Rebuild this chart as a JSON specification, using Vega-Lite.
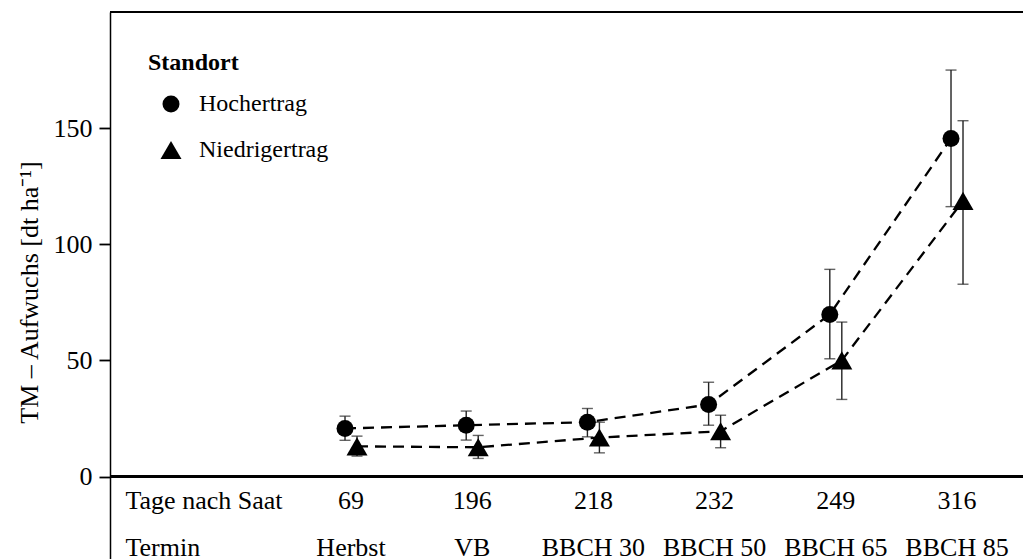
{
  "$schema": "https://vega.github.io/schema/vega-lite/v6.json",
  "width": 913,
  "height": 547,
  "autosize": {"type": "none"},
  "padding": {"left": 110, "top": 12, "right": 0, "bottom": 0},
  "background": "white",
  "config": {
    "view": {"stroke": null},
    "font": "Liberation Serif",
    "axis": {"grid": false}
  },
  "data": {
    "values": [
      {"termin": "69|Herbst", "standort": "Hochertrag", "tm": 20.7, "lo": 15.6, "hi": 26.0},
      {"termin": "196|VB", "standort": "Hochertrag", "tm": 22.1, "lo": 15.7, "hi": 28.2},
      {"termin": "218|BBCH 30", "standort": "Hochertrag", "tm": 23.4, "lo": 17.1, "hi": 29.3},
      {"termin": "232|BBCH 50", "standort": "Hochertrag", "tm": 31.0, "lo": 22.1, "hi": 40.6},
      {"termin": "249|BBCH 65", "standort": "Hochertrag", "tm": 69.8, "lo": 50.7, "hi": 89.2},
      {"termin": "316|BBCH 85", "standort": "Hochertrag", "tm": 145.5, "lo": 116.2, "hi": 175.0},
      {"termin": "69|Herbst", "standort": "Niedrigertrag", "tm": 13.0, "lo": 8.8, "hi": 17.4},
      {"termin": "196|VB", "standort": "Niedrigertrag", "tm": 12.6, "lo": 7.8, "hi": 17.7},
      {"termin": "218|BBCH 30", "standort": "Niedrigertrag", "tm": 16.8, "lo": 10.2, "hi": 23.4},
      {"termin": "232|BBCH 50", "standort": "Niedrigertrag", "tm": 19.5, "lo": 12.4, "hi": 26.4},
      {"termin": "249|BBCH 65", "standort": "Niedrigertrag", "tm": 50.0, "lo": 33.2, "hi": 66.5},
      {"termin": "316|BBCH 85", "standort": "Niedrigertrag", "tm": 118.7, "lo": 82.8, "hi": 153.2}
    ]
  },
  "encoding": {
    "x": {
      "field": "termin",
      "type": "nominal",
      "sort": null,
      "scale": {
        "type": "band",
        "domain": ["69|Herbst", "196|VB", "218|BBCH 30", "232|BBCH 50", "249|BBCH 65", "316|BBCH 85"],
        "paddingInner": 0,
        "paddingOuter": 0.7665,
        "align": 0.971
      },
      "axis": {
        "orient": "bottom",
        "offset": -82,
        "domain": false,
        "ticks": false,
        "tickSize": 0,
        "labelAngle": 0,
        "labelExpr": "split(datum.value, '|')",
        "labelFont": "Liberation Serif",
        "labelFontSize": 26,
        "labelColor": "black",
        "labelBaseline": "alphabetic",
        "labelLineHeight": 47.5,
        "labelPadding": 31,
        "labelOverlap": false,
        "labelFlush": false,
        "labelBound": false,
        "title": ["Tage nach Saat", "Termin"],
        "titleFont": "Liberation Serif",
        "titleFontSize": 26,
        "titleFontWeight": "normal",
        "titleColor": "black",
        "titleAlign": "left",
        "titleBaseline": "alphabetic",
        "titleLineHeight": 47.5,
        "titleX": 15,
        "titleY": 31,
        "titleAngle": 0
      }
    },
    "xOffset": {
      "field": "standort",
      "type": "nominal",
      "scale": {"type": "band", "domain": ["Hochertrag", "Niedrigertrag"], "range": [48.6, 72.6], "paddingInner": 0, "paddingOuter": 0}
    },
    "y": {
      "field": "tm",
      "type": "quantitative",
      "scale": {"domain": [-35.5, 200], "nice": false, "zero": false},
      "axis": {
        "values": [0, 50, 100, 150],
        "domain": true,
        "domainColor": "black",
        "domainWidth": 1.5,
        "ticks": true,
        "tickSize": 11,
        "tickWidth": 1.8,
        "tickColor": "black",
        "labelFont": "Liberation Serif",
        "labelFontSize": 26,
        "labelColor": "black",
        "labelPadding": 7,
        "title": "TM – Aufwuchs [dt ha⁻¹]",
        "titleFont": "Liberation Serif",
        "titleFontSize": 26,
        "titleFontWeight": "normal",
        "titleColor": "black",
        "titleAngle": 270,
        "titleAlign": "center",
        "titleBaseline": "alphabetic",
        "titleX": -73,
        "titleY": 280
      }
    }
  },
  "layer": [
    {
      "mark": {"type": "rule", "color": "black", "strokeWidth": 2.6},
      "encoding": {"x": null, "xOffset": null, "y": {"datum": 0, "type": "quantitative"}}
    },
    {
      "mark": {"type": "rule", "color": "black", "strokeWidth": 1.5},
      "encoding": {"x": null, "xOffset": null, "y": {"datum": 200, "type": "quantitative"}}
    },
    {
      "mark": {"type": "line", "color": "black", "strokeWidth": 2.3, "strokeDash": [11, 7]},
      "encoding": {"detail": {"field": "standort", "type": "nominal"}}
    },
    {
      "mark": {"type": "rule", "color": "#222222", "strokeWidth": 1.4},
      "encoding": {"y": {"field": "lo", "type": "quantitative"}, "y2": {"field": "hi"}}
    },
    {
      "mark": {"type": "tick", "color": "#222222", "thickness": 1.4, "size": 11, "orient": "horizontal"},
      "encoding": {"y": {"field": "lo", "type": "quantitative"}}
    },
    {
      "mark": {"type": "tick", "color": "#222222", "thickness": 1.4, "size": 11, "orient": "horizontal"},
      "encoding": {"y": {"field": "hi", "type": "quantitative"}}
    },
    {
      "mark": {"type": "point", "filled": true, "color": "black", "opacity": 1, "strokeWidth": 0},
      "encoding": {
        "shape": {
          "field": "standort",
          "type": "nominal",
          "scale": {"domain": ["Hochertrag", "Niedrigertrag"], "range": ["circle", "triangle-up"]},
          "legend": {
            "title": "Standort",
            "orient": "none",
            "legendX": 38,
            "legendY": 38.5,
            "padding": 0,
            "titleFont": "Liberation Serif",
            "titleFontSize": 24,
            "titleFontWeight": "bold",
            "titleColor": "black",
            "titlePadding": 17.5,
            "labelFont": "Liberation Serif",
            "labelFontSize": 24,
            "labelColor": "black",
            "labelOffset": 16,
            "rowPadding": 22,
            "symbolOffset": 11,
            "symbolFillColor": "black",
            "symbolStrokeColor": "black",
            "symbolStrokeWidth": 0,
            "symbolOpacity": 1
          }
        },
        "size": {
          "field": "standort",
          "type": "nominal",
          "scale": {"domain": ["Hochertrag", "Niedrigertrag"], "range": [289, 441]},
          "legend": {"title": "Standort"}
        }
      }
    }
  ]
}
